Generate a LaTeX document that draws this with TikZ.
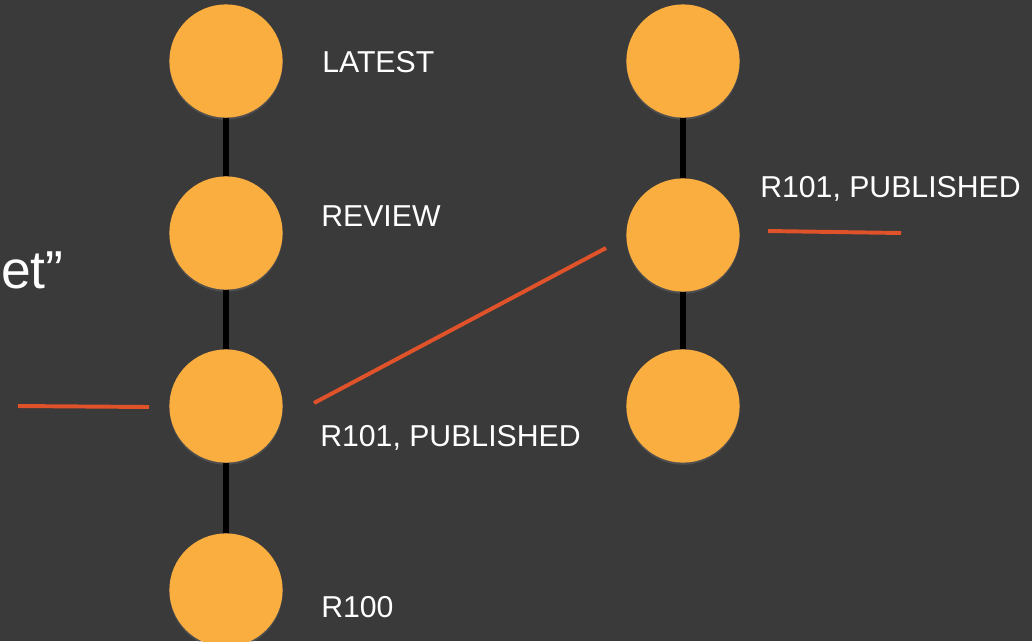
\documentclass[tikz,border=0pt]{standalone}
\usepackage{fontspec}
\setmainfont{Liberation Sans}
\usepackage{xcolor}
\usetikzlibrary{positioning,shadows}
\definecolor{slate}{HTML}{3A3A3A}
\definecolor{dotfill}{HTML}{FBAE40}
\definecolor{pointred}{HTML}{E0522A}

\begin{document}
\begin{tikzpicture}[x=0.025cm, y=-0.025cm,
  rev/.style={circle, fill=dotfill, minimum size=2.83cm, inner sep=0pt,
    drop shadow={opacity=0.3, shadow xshift=0pt, shadow yshift=-1.5pt}},
  tag/.style={anchor=base west, inner sep=0pt, text=white, font=\fontsize{21.5}{26}\selectfont},
  link/.style={black, line width=3.8pt},
  pointer/.style={pointred, line width=2.8pt}]
% Background
\fill[slate] (0,0) rectangle (1032,641);
\useasboundingbox (0,0) rectangle (1032,641);

% Partial title at the left edge
\node[anchor=base west, inner sep=0pt, text=white, font=\fontsize{38}{44}\selectfont] (title) at (1,288) {et”};

% Left history
\node[rev] (l1) at (226,61) {};
\node[rev] (l2) at (226,233) {};
\node[rev] (l3) at (226,406) {};
\node[rev] (l4) at (226,590) {};

\node[tag] (latest) at (322,72) {LATEST};
\node[tag] (review) at (321,226) {REVIEW};
\node[tag] (publ) at (320,446) {R101, PUBLISHED};
\node[tag] (r100) at (321,617) {R100};

% Right history
\node[rev] (r1) at (683,61) {};
\node[rev] (r2) at (683,235) {};
\node[rev] (r3) at (683,406) {};

\node[tag] (pubr) at (760,197) {R101, PUBLISHED};

% Links
\draw[link] (l1) -- (l2);
\draw[link] (l2) -- (l3);
\draw[link] (l3) -- (l4);
\draw[link] (r1) -- (r2);
\draw[link] (r2) -- (r3);

% Pointers
\coordinate (pa) at (18,406);
\coordinate (pb) at (149,407);
\coordinate (pc) at (314,403);
\coordinate (pd) at (606,248);
\coordinate (pe) at (768,231);
\coordinate (pf) at (901,233);
\draw[pointer] (pa) -- (pb);
\draw[pointer] (pc) -- (pd);
\draw[pointer] (pe) -- (pf);
\end{tikzpicture}
\end{document}
